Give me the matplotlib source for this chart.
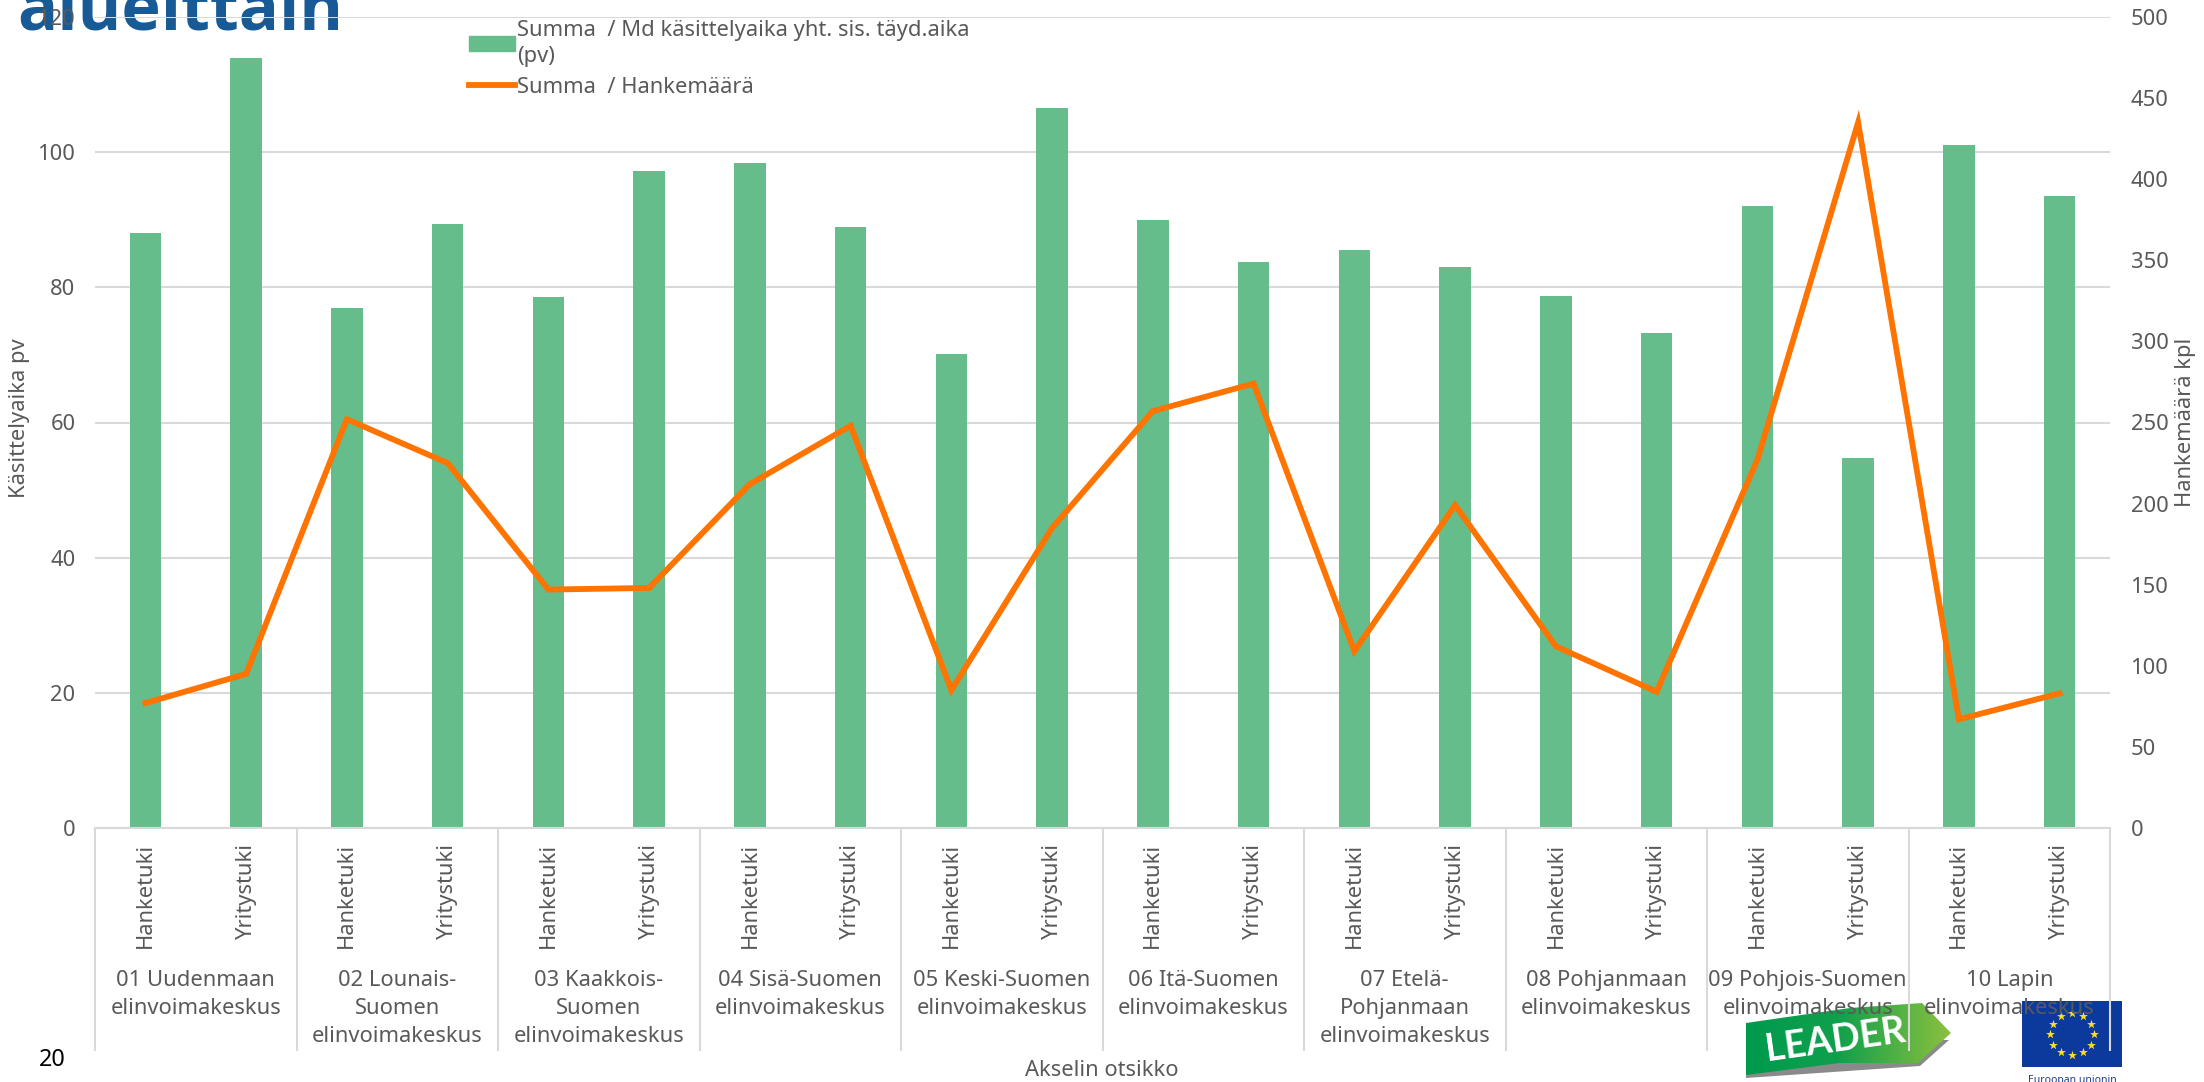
#!/usr/bin/env python

import numpy as np
import matplotlib
matplotlib.use("Agg")
import matplotlib.pyplot as plt
from matplotlib.patches import Polygon, Rectangle
from matplotlib.lines import Line2D
from matplotlib.transforms import blended_transform_factory

plt.rcParams["font.family"] = ["Noto Sans", "DejaVu Sans"]

regions = ["01 Uudenmaan\nelinvoimakeskus", "02 Lounais-\nSuomen\nelinvoimakeskus",
           "03 Kaakkois-\nSuomen\nelinvoimakeskus", "04 Sisä-Suomen\nelinvoimakeskus",
           "05 Keski-Suomen\nelinvoimakeskus", "06 Itä-Suomen\nelinvoimakeskus",
           "07 Etelä-\nPohjanmaan\nelinvoimakeskus", "08 Pohjanmaan\nelinvoimakeskus",
           "09 Pohjois-Suomen\nelinvoimakeskus", "10 Lapin\nelinvoimakeskus"]
support_types = ["Hanketuki", "Yritystuki"]

kasittelyaika = [88.0, 114.0, 77.0, 89.4, 78.5, 97.2, 98.4, 89.0, 70.2, 106.5,
                 90.0, 83.7, 85.5, 83.0, 78.7, 73.2, 92.0, 54.8, 101.0, 93.5]
hankemaara = [77, 95, 252, 225, 147, 148, 212, 248, 85, 185,
              257, 274, 109, 199, 112, 84, 227, 435, 67, 83]

left_ticks = [0, 20, 40, 60, 80, 100, 120]
right_ticks = [0, 50, 100, 150, 200, 250, 300, 350, 400, 450, 500]

GREEN = "#64BD8A"
ORANGE = "#FF7300"
GREY = "#595959"
GRID = "#D9D9D9"
W, H = 2204, 1082
FS = 15.8

fig = plt.figure(figsize=(W / 100, H / 100), dpi=100)

# background layer in pixel coordinates: title and logos sit under the chart
bg = fig.add_axes([0, 0, 1, 1], zorder=0)
bg.set_xlim(0, W)
bg.set_ylim(H, 0)
bg.axis("off")

bg.text(17, 29, "alueittain", color="#175A96", fontsize=48, fontweight="bold",
        family="Open Sans", ha="left", va="baseline", clip_on=True)

# LEADER arrow
bg.add_patch(Polygon([(1746, 1040), (1746, 1078), (1920, 1066), (1949, 1040)], color="#8A8A8A", lw=0))
arrow = Polygon([(1746, 1023), (1850, 1008), (1922, 1003), (1951, 1033), (1918, 1063), (1840, 1063), (1746, 1075)],
                color="none", lw=0)
bg.add_patch(arrow)
cmap = matplotlib.colors.LinearSegmentedColormap.from_list(
    "leader", [(0, "#009A4E"), (0.45, "#10A04C"), (1, "#8CC03F")])
img = bg.imshow(np.linspace(0, 1, 256).reshape(1, -1), cmap=cmap, extent=[1746, 1951, 1078, 1000],
                aspect="auto", zorder=1)
img.set_clip_path(arrow)
bg.set_xlim(0, W)
bg.set_ylim(H, 0)
bg.text(1835, 1040, "LEADER", color="white", fontsize=27, fontweight="bold", family="Lato",
        ha="center", va="center", rotation=8, zorder=2)

# EU flag
bg.add_patch(Rectangle((2022, 1001), 100, 66, color="#0B3A9C", lw=0, zorder=1))
angles = np.arange(12) * np.pi / 6
bg.scatter(2072 + 22 * np.cos(angles), 1034 + 21 * np.sin(angles), marker="*", s=45,
           color="#FFDD22", lw=0, zorder=2)
bg.text(2072, 1075, "Euroopan unionin", color="#1F3C8C", fontsize=7.5, fontweight="bold",
        ha="center", va="top", clip_on=True)

# main chart
ax = fig.add_axes([95 / W, 1 - 828 / H, (2110 - 95) / W, (828 - 17) / H], zorder=1)
ax.patch.set_alpha(0)
x = np.arange(len(kasittelyaika))
bars = ax.bar(x, kasittelyaika, width=0.315, color=GREEN, zorder=2)
ax.set_xlim(-0.5, len(x) - 0.5)
ax.set_ylim(0, 120)
ax.set_yticks(left_ticks)
ax.grid(axis="y", color=GRID, lw=1.5, zorder=0)
ax.set_axisbelow(True)
ax.tick_params(axis="y", length=0, pad=14, labelsize=FS, labelcolor=GREY)
ax.set_xticks(x, support_types * len(regions), rotation=90)
ax.tick_params(axis="x", length=0, pad=11, labelsize=FS, labelcolor=GREY)
for lab in ax.get_xticklabels():
    lab.set_verticalalignment("top")
for side in ["top", "left", "right"]:
    ax.spines[side].set_visible(False)
ax.spines["bottom"].set_color(GRID)
ax.spines["bottom"].set_linewidth(1.5)

ax2 = ax.twinx()
ax2.patch.set_alpha(0)
line, = ax2.plot(x, hankemaara, color=ORANGE, lw=4.2, solid_joinstyle="miter", zorder=3)
ax2.set_ylim(0, 500)
ax2.set_yticks(right_ticks)
ax2.tick_params(axis="y", length=0, pad=15, labelsize=FS, labelcolor=GREY)
for s in ax2.spines.values():
    s.set_visible(False)

# two-level category axis
trans = blended_transform_factory(ax.transData, fig.transFigure)
seps = np.arange(len(regions) + 1) * 2 - 0.5
ax.vlines(seps, 1 - 1051 / H, 1 - 828 / H, transform=trans, color=GRID, lw=1.5, clip_on=False)
for i, name in enumerate(regions):
    ax.text(2 * i + 0.5, 1 - 970 / H, name, transform=trans, ha="center", va="top",
            fontsize=FS, color=GREY, linespacing=1.44)

fig.text(20 / W, 1 - 418 / H, "Käsittelyaika pv", rotation=90, ha="center", va="center", fontsize=FS, color=GREY)
fig.text(2186 / W, 1 - 422 / H, "Hankemäärä kpl", rotation=90, ha="center", va="center", fontsize=FS, color=GREY)
fig.text(1102 / W, 1 - 1071 / H, "Akselin otsikko", ha="center", va="center", fontsize=FS, color=GREY)
fig.text(52 / W, 1 - 1060 / H, "20", ha="center", va="center", fontsize=FS + 1, color="black")

handles = [Rectangle((0, 0), 1, 1, color=GREEN), Line2D([0], [0], color=ORANGE, lw=4.2)]
labels = ["Summa  / Md käsittelyaika yht. sis. täyd.aika\n(pv)", "Summa  / Hankemäärä"]
leg = ax2.legend(handles, labels, loc="upper left", bbox_to_anchor=(469 / W, 1 - 20 / H),
                 bbox_transform=fig.transFigure, frameon=False, fontsize=FS, labelcolor=GREY,
                 handlelength=2.1, handletextpad=0.1, borderpad=0, borderaxespad=0, labelspacing=0.45)
for t in leg.get_texts():
    t.set_linespacing(1.3)

fig.savefig("out.png", dpi=100)
